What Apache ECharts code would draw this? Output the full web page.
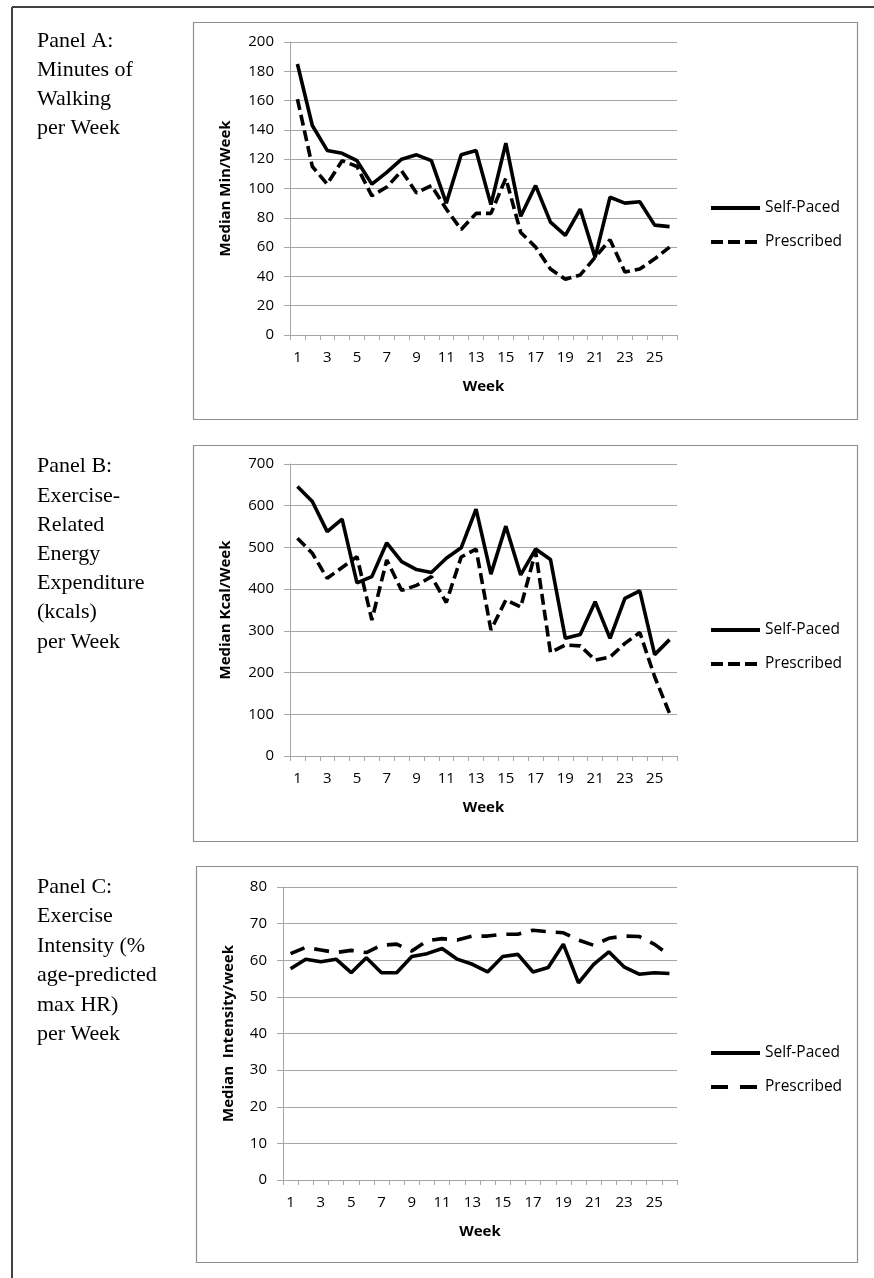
<!DOCTYPE html>
<html>
<head>
<meta charset="utf-8">
<script src="https://cdn.jsdelivr.net/npm/echarts@6/dist/echarts.min.js"></script>
<style>
html,body{margin:0;padding:0;background:#fff;}
#c{width:874px;height:1278px;}
</style>
</head>
<body>
<div id="c"></div>
<script>
var weeks = ['1','2','3','4','5','6','7','8','9','10','11','12','13','14','15','16','17','18','19','20','21','22','23','24','25','26'];

var selfMin = [185,143,126,124,119,103,111,120,123,119,90,123,126,89,131,81,102,77,68,86,53,94,90,91,75,74];
var presMin = [161,115,103,119,115,95,101,112,97,102,86,72,83,83,107,70,60,45,38,41,53,65,43,45,52,60];

var selfKcal = [646,610,538,568,415,430,511,466,447,440,474,499,592,436,551,434,496,471,282,291,370,282,378,396,243,279];
var presKcal = [522,486,426,452,478,326,470,397,409,430,368,477,496,302,374,357,490,248,266,264,230,237,270,296,190,102];

var selfInt = [57.7,60.3,59.6,60.3,56.6,60.7,56.6,56.6,61,61.8,63.2,60.3,58.9,56.8,61,61.6,56.8,58,64.4,53.8,58.9,62.3,58.2,56.2,56.6,56.4];
var presInt = [61.8,63.5,62.8,62.1,62.7,62.1,64.1,64.4,62.5,65.3,65.9,65.5,66.6,66.6,67.1,67.1,68.2,67.8,67.5,65.5,64.1,66,66.6,66.5,64.4,61.4];

var yTitles = ['Median Min/Week', 'Median Kcal/Week', 'Median  Intensity/week'];
var panelTexts = [
  'Panel A:\nMinutes of\nWalking\nper Week',
  'Panel B:\nExercise-\nRelated\nEnergy\nExpenditure\n(kcals)\nper Week',
  'Panel C:\nExercise\nIntensity (%\nage-predicted\nmax HR)\nper Week'
];
var legendNames = ['Self-Paced', 'Prescribed'];

var FONT = 'Open Sans';
var GRID_C = '#a6a6a6';

var grids = [
  {left: 290, top: 42, width: 387, height: 293},
  {left: 290, top: 464, width: 387, height: 292},
  {left: 283, top: 887, width: 394, height: 293}
];
var yRanges = [[0,200,20],[0,700,100],[0,80,10]];
var nameGaps = [57, 57, 47];

function xAxis(i){
  return {
    gridIndex: i, type: 'category', data: weeks, boundaryGap: true,
    name: 'Week', nameLocation: 'middle', nameGap: 44,
    nameTextStyle: {fontFamily: FONT, fontSize: 15, fontWeight: 'bold', color: '#000'},
    axisLine: {show: true, lineStyle: {color: GRID_C, width: 1}},
    axisTick: {show: true, interval: 0, length: 5, lineStyle: {color: GRID_C}},
    axisLabel: {interval: 1, margin: 15, fontFamily: FONT, fontSize: 15, color: '#000'},
    splitLine: {show: false}
  };
}
function yAxis(i){
  var r = yRanges[i];
  return {
    gridIndex: i, type: 'value', min: r[0], max: r[1], interval: r[2],
    name: yTitles[i], nameLocation: 'middle', nameGap: nameGaps[i], nameRotate: 90,
    nameTextStyle: {fontFamily: FONT, fontSize: 15, fontWeight: 'bold', color: '#000'},
    axisLine: {show: true, lineStyle: {color: GRID_C, width: 1}},
    axisTick: {show: true, length: 6, lineStyle: {color: GRID_C}},
    axisLabel: {margin: 16, fontFamily: FONT, fontSize: 15, color: '#000'},
    splitLine: {show: true, lineStyle: {color: GRID_C, width: 1}}
  };
}
var dashAB = [11, 5];
var dashC = [15, 10];
var legendDash = [[12, 5], [12, 5], [17, 12]];
var panelsData = [[selfMin, presMin, dashAB], [selfKcal, presKcal, dashAB], [selfInt, presInt, dashC]];
var series = [];
var legends = [];
var legendTops = [195, 617, 1040];
panelsData.forEach(function(p, i){
  var tag = 'ABC'[i] + '|';
  series.push({
    name: tag + legendNames[0], type: 'line', xAxisIndex: i, yAxisIndex: i,
    data: p[0], symbol: 'none', animation: false,
    lineStyle: {color: '#000', width: 3.6, type: 'solid'}, itemStyle: {color: '#000'}
  });
  series.push({
    name: tag + legendNames[1], type: 'line', xAxisIndex: i, yAxisIndex: i,
    data: p[1], symbol: 'none', animation: false,
    lineStyle: {color: '#000', width: 3.6, type: p[2]}, itemStyle: {color: '#000'}
  });
  legends.push({
    id: 'lg' + i,
    orient: 'vertical', left: 704, top: legendTops[i],
    itemWidth: 49, itemHeight: 14, itemGap: 18, selectedMode: false,
    data: [
      {name: tag + legendNames[0], lineStyle: {width: 4, type: 'solid'}},
      {name: tag + legendNames[1], lineStyle: {width: 4, type: legendDash[i]}}
    ],
    itemStyle: {opacity: 0, borderWidth: 0},
    formatter: function(n){ return n.split('|')[1]; },
    textStyle: {fontFamily: FONT, fontSize: 15.5, color: '#000'}
  });
});

var graphic = [
  {type: 'line', shape: {x1: 12, y1: 7, x2: 874, y2: 7}, style: {stroke: '#404040', lineWidth: 2}},
  {type: 'line', shape: {x1: 12, y1: 7, x2: 12, y2: 1278}, style: {stroke: '#404040', lineWidth: 2}},
  {type: 'rect', shape: {x: 193.5, y: 22.5, width: 664, height: 397}, style: {fill: 'none', stroke: '#8f8f8f', lineWidth: 1.2}},
  {type: 'rect', shape: {x: 193.5, y: 445.5, width: 664, height: 396}, style: {fill: 'none', stroke: '#8f8f8f', lineWidth: 1.2}},
  {type: 'rect', shape: {x: 196.5, y: 866.5, width: 661, height: 396}, style: {fill: 'none', stroke: '#8f8f8f', lineWidth: 1.2}}
];
var textTops = [27, 452, 872];
var textLH = [29, 29.2, 29.5];
panelTexts.forEach(function(t, i){
  graphic.push({
    type: 'text', left: 37, top: textTops[i],
    style: {text: t, fontFamily: 'Liberation Serif', fontSize: 22, lineHeight: textLH[i], fill: '#000'}
  });
});

var chart = echarts.init(document.getElementById('c'), null, {renderer: 'canvas'});
chart.setOption({
  backgroundColor: '#fff',
  animation: false,
  textStyle: {fontFamily: FONT},
  grid: grids,
  xAxis: [xAxis(0), xAxis(1), xAxis(2)],
  yAxis: [yAxis(0), yAxis(1), yAxis(2)],
  legend: legends,
  series: series,
  graphic: graphic
});
</script>
</body>
</html>
